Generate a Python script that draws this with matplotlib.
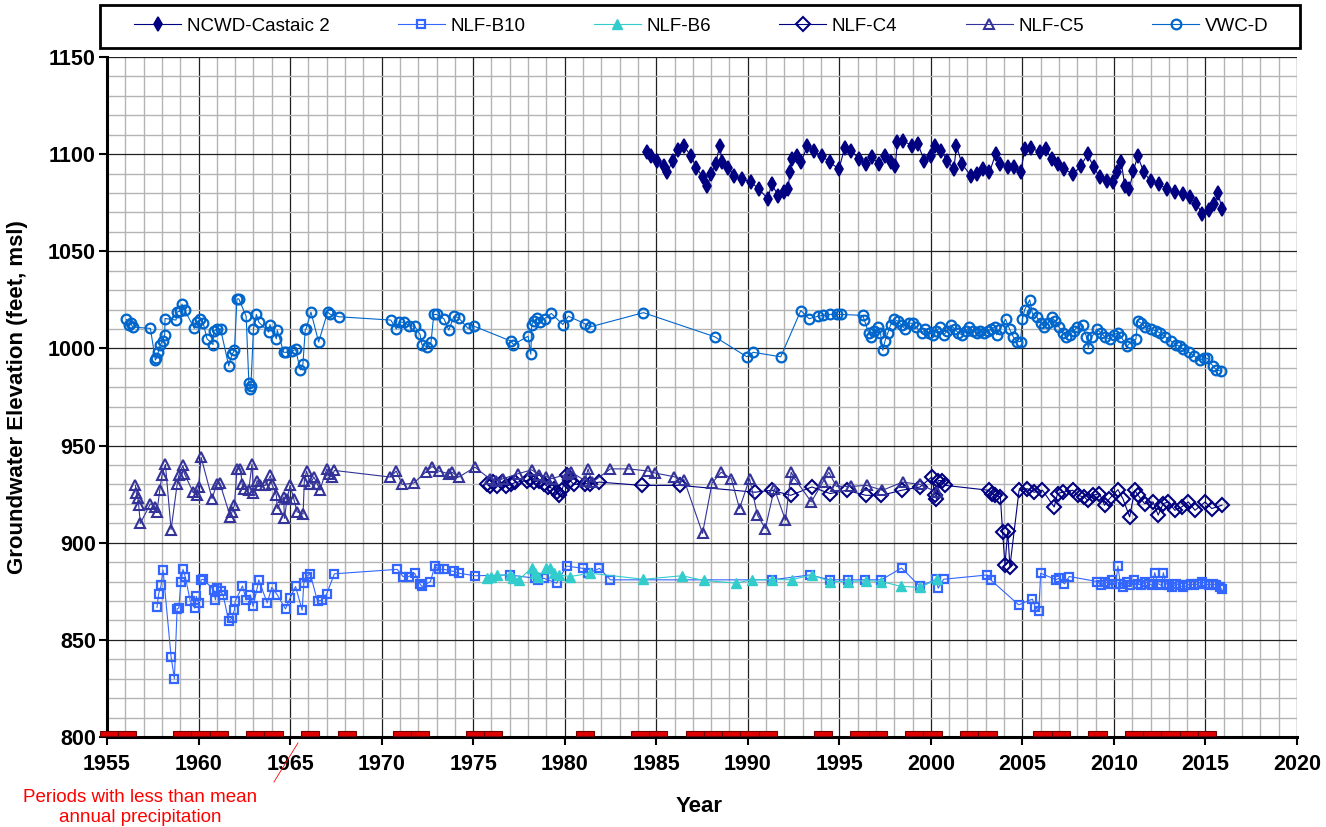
import matplotlib
matplotlib.use("Agg")
import matplotlib.pyplot as plt
from matplotlib.ticker import MultipleLocator
from matplotlib.patches import Rectangle
from matplotlib.lines import Line2D

plt.rcParams['font.family'] = ['Liberation Sans', 'DejaVu Sans']

# (year, groundwater elevation in feet msl)
ncwd_castaic2 = [
    (1984.47, 1101), (1984.7, 1099), (1985.05, 1096.6), (1985.4, 1094), (1985.6, 1090.6),
    (1985.9, 1096.6), (1986.2, 1102), (1986.5, 1104.3), (1986.9, 1099), (1987.2, 1093),
    (1987.55, 1088), (1987.8, 1083.8), (1988.0, 1089.7), (1988.24, 1095), (1988.47, 1104.3),
    (1988.6, 1095.7), (1988.93, 1093), (1989.27, 1089), (1989.7, 1087.2), (1990.2, 1085.5),
    (1990.6, 1082), (1991.1, 1077), (1991.3, 1084.6), (1991.67, 1078.6), (1992.0, 1080.3),
    (1992.2, 1082), (1992.3, 1090.6), (1992.4, 1097.4), (1992.7, 1099), (1992.9, 1095.7),
    (1993.26, 1104.3), (1993.6, 1101.7), (1994.06, 1099), (1994.5, 1095.7), (1994.98, 1092.3),
    (1995.3, 1103.4), (1995.66, 1101.7), (1996.1, 1097.4), (1996.45, 1095), (1996.8, 1098.3),
    (1997.15, 1095), (1997.5, 1099), (1997.83, 1095.7), (1998.06, 1094), (1998.17, 1106),
    (1998.5, 1106.8), (1998.97, 1104.3), (1999.3, 1105), (1999.65, 1096.6), (2000.0, 1099),
    (2000.23, 1104.3), (2000.57, 1101.7), (2000.9, 1096.6), (2001.26, 1092.3), (2001.4, 1104.3),
    (2001.7, 1095), (2002.17, 1089), (2002.5, 1089.7), (2002.85, 1092.3), (2003.2, 1090.6),
    (2003.54, 1100), (2003.77, 1095), (2004.2, 1093.2), (2004.57, 1093.2), (2004.9, 1090.6),
    (2005.14, 1102.6), (2005.48, 1103.4), (2005.94, 1101), (2006.28, 1102.6), (2006.6, 1097.4),
    (2006.96, 1095), (2007.3, 1092.3), (2007.76, 1089.7), (2008.2, 1094), (2008.56, 1100),
    (2008.9, 1093.2), (2009.25, 1088), (2009.6, 1086.3), (2009.93, 1085.5), (2010.16, 1090.6),
    (2010.4, 1095.7), (2010.6, 1083.8), (2010.84, 1082), (2011.07, 1091.5), (2011.3, 1099),
    (2011.64, 1090.6), (2012.0, 1086.3), (2012.44, 1084.6), (2012.9, 1082), (2013.35, 1080.3),
    (2013.8, 1079.5), (2014.15, 1077.8), (2014.5, 1074.4), (2014.84, 1069.2), (2015.18, 1071),
    (2015.48, 1074.4), (2015.7, 1079.8), (2015.9, 1071.8),
]

nlf_b10 = [
    (1957.73, 866.7), (1957.82, 873.7), (1957.95, 878), (1958.06, 886), (1958.5, 841.3),
    (1958.68, 830), (1958.83, 866), (1958.92, 866.4), (1959.04, 880), (1959.15, 886.3),
    (1959.28, 882.3), (1959.55, 869.8), (1959.79, 866.4), (1959.88, 872.4), (1960.0, 869),
    (1960.14, 880.9), (1960.25, 881.2), (1960.83, 875.8), (1960.92, 870.6), (1961.0, 876.6),
    (1961.2, 874.9), (1961.34, 873.2), (1961.65, 859.6), (1961.83, 861.3), (1961.96, 865.5),
    (1962.0, 869.8), (1962.4, 877.8), (1962.6, 870.6), (1962.83, 873.2), (1962.98, 867.2),
    (1963.2, 876.6), (1963.29, 880.9), (1963.75, 869), (1964.0, 877), (1964.3, 873.2),
    (1964.75, 865.9), (1965.0, 871.5), (1965.3, 877.5), (1965.66, 865.2), (1965.75, 879.2),
    (1965.9, 882.6), (1966.1, 884), (1966.5, 869.8), (1966.75, 870.6), (1967.0, 873.7),
    (1967.42, 884), (1970.85, 886.3), (1971.17, 882.6), (1971.48, 882.6), (1971.8, 884.3),
    (1972.1, 878.8), (1972.2, 877.5), (1972.67, 880), (1972.9, 888), (1973.12, 886.3),
    (1973.4, 886.3), (1973.95, 885.2), (1974.22, 884.3), (1975.1, 883), (1977.0, 883.4),
    (1978.4, 881.7), (1978.56, 880.9), (1978.87, 881.7), (1979.56, 879.2), (1980.1, 888),
    (1981.0, 886.8), (1981.3, 884.3), (1981.9, 886.8), (1982.5, 880.9), (1991.3, 880.9),
    (1993.4, 883.4), (1994.5, 880.9), (1995.5, 880.9), (1996.4, 880.9), (1997.3, 880.9),
    (1998.4, 887), (1999.41, 877.5), (2000.3, 881.2), (2000.4, 876.6), (2000.7, 881.2),
    (2003.08, 883.4), (2003.26, 881), (2004.8, 868), (2005.55, 871), (2005.7, 867),
    (2005.9, 865), (2006.0, 884.3), (2006.83, 881), (2007.0, 881.7), (2007.3, 878.8),
    (2007.56, 882.6), (2009.1, 880), (2009.3, 878), (2009.5, 880), (2009.7, 879),
    (2009.9, 881), (2010.1, 879), (2010.22, 888), (2010.35, 879), (2010.5, 877),
    (2010.7, 880), (2010.9, 878), (2011.1, 881), (2011.3, 879), (2011.5, 878),
    (2011.7, 880), (2011.9, 879), (2012.1, 878), (2012.23, 884.6), (2012.4, 879),
    (2012.6, 878), (2012.7, 884.6), (2012.85, 879), (2013.0, 878), (2013.2, 877),
    (2013.4, 879), (2013.6, 878), (2013.8, 877), (2014.0, 878), (2014.2, 879),
    (2014.4, 878), (2014.6, 879), (2014.8, 880), (2015.0, 879), (2015.2, 878),
    (2015.4, 879), (2015.6, 878), (2015.8, 877), (2015.9, 876),
]

nlf_b6 = [
    (1975.73, 882), (1976.0, 882.6), (1976.3, 883.4), (1977.0, 883.4), (1977.2, 881.7),
    (1977.5, 881), (1978.2, 887), (1978.4, 884.3), (1978.56, 882.6), (1979.0, 887),
    (1979.2, 887), (1979.4, 884.3), (1979.67, 883.4), (1980.3, 882.6), (1981.4, 884.3),
    (1984.3, 881.2), (1986.4, 883), (1987.6, 880.6), (1989.36, 879.2), (1990.25, 881),
    (1991.35, 881), (1992.4, 881), (1993.5, 883.4), (1994.5, 880), (1995.5, 880),
    (1996.45, 880.5), (1997.3, 880), (1998.35, 877.6), (1999.41, 877), (2000.33, 881.2),
]

nlf_c4 = [
    (1975.73, 930.4), (1975.9, 929), (1976.1, 931), (1976.3, 929), (1976.55, 931),
    (1976.8, 929), (1977.05, 930), (1977.3, 931), (1977.93, 932), (1978.1, 933),
    (1978.3, 931), (1978.57, 932), (1978.85, 930.4), (1979.1, 928.7), (1979.4, 927.8),
    (1979.58, 926), (1979.67, 924.4), (1979.85, 927), (1980.1, 935), (1980.3, 932),
    (1980.5, 930), (1981.1, 930.4), (1981.4, 930.4), (1981.9, 931.2), (1984.2, 929.5),
    (1986.3, 929.5), (1990.4, 926), (1991.3, 927), (1992.35, 924.4), (1993.5, 928.7),
    (1994.5, 925.3), (1995.4, 927), (1996.45, 924.4), (1997.3, 924.4), (1998.4, 927),
    (1999.41, 928.7), (2000.05, 933.8), (2000.24, 924.4), (2000.3, 922.7), (2000.4, 932),
    (2000.6, 932), (2000.8, 929.5), (2003.17, 927), (2003.35, 925.3), (2003.53, 924.4),
    (2003.8, 923.5), (2003.92, 905.6), (2004.05, 888.6), (2004.2, 905.8), (2004.32, 887.7),
    (2004.82, 927), (2005.27, 927.8), (2005.64, 926), (2006.1, 927), (2006.74, 918.4),
    (2006.92, 925.3), (2007.2, 926), (2007.75, 927), (2008.02, 924.4), (2008.39, 923.5),
    (2008.57, 921.8), (2008.85, 924.4), (2009.21, 925.3), (2009.49, 919.3), (2009.76, 922.7),
    (2010.22, 927.3), (2010.49, 922.7), (2010.86, 913.3), (2011.14, 927), (2011.32, 924.4),
    (2011.68, 920.1), (2012.14, 921), (2012.42, 914.2), (2012.69, 920.1), (2012.97, 921),
    (2013.33, 916.7), (2013.7, 918.4), (2014.07, 921), (2014.43, 916.7), (2014.98, 921),
    (2015.35, 917.6), (2015.9, 919.3),
]

nlf_c5 = [
    (1956.55, 929.5), (1956.6, 925.6), (1956.68, 923.2), (1956.73, 919.3), (1956.82, 910),
    (1957.37, 920), (1957.64, 918.4), (1957.73, 915.9), (1957.88, 927), (1958.0, 934.6),
    (1958.19, 940.3), (1958.5, 906.8), (1958.83, 930), (1958.92, 934.6), (1959.15, 939.8),
    (1959.23, 935.5), (1959.7, 926), (1959.9, 924.4), (1960.0, 928.7), (1960.14, 944),
    (1960.74, 922.7), (1961.0, 930.4), (1961.16, 930.7), (1961.74, 913.3), (1961.83, 915.9),
    (1961.96, 919.3), (1962.1, 938), (1962.29, 938), (1962.38, 930.4), (1962.47, 927.8),
    (1962.74, 927), (1962.92, 940.6), (1963.0, 925.6), (1963.2, 932), (1963.38, 929.5),
    (1963.65, 929.5), (1963.93, 934.6), (1964.0, 930.4), (1964.25, 924.4), (1964.3, 917.6),
    (1964.65, 923.5), (1964.69, 912.5), (1964.84, 922.7), (1965.0, 929.5), (1965.2, 922.7),
    (1965.38, 915.9), (1965.71, 914.7), (1965.78, 932), (1965.9, 936.9), (1966.1, 930.4),
    (1966.3, 933.8), (1966.48, 930.4), (1966.63, 927), (1967.0, 938), (1967.1, 935.5),
    (1967.3, 933.8), (1967.42, 937.2), (1970.48, 933.8), (1970.8, 936.9), (1971.12, 930),
    (1971.76, 930.7), (1972.4, 936.3), (1972.76, 939.2), (1973.12, 936.9), (1973.67, 935.5),
    (1973.85, 936.3), (1974.22, 933.8), (1975.1, 938.9), (1975.9, 932.9), (1976.26, 932),
    (1976.63, 932.9), (1977.45, 935.5), (1978.2, 937.5), (1978.6, 935), (1979.0, 934),
    (1979.3, 933), (1980.2, 935.5), (1980.37, 936.3), (1981.1, 932), (1981.28, 938),
    (1981.5, 931), (1982.5, 938), (1983.5, 938), (1984.56, 936.9), (1984.96, 935.8),
    (1985.97, 934), (1986.52, 932.4), (1987.53, 904.8), (1988.05, 930.7), (1988.55, 936.3),
    (1989.1, 933), (1989.55, 917.6), (1990.1, 933), (1990.53, 914.2), (1990.96, 907.3),
    (1991.45, 927.8), (1992.06, 911.6), (1992.37, 936.3), (1992.56, 933), (1993.47, 921),
    (1994.1, 931.2), (1994.43, 936.3), (1994.84, 929), (1995.66, 929), (1996.5, 929.5),
    (1997.36, 927), (1998.46, 931.2), (1999.41, 930), (2000.33, 926),
]

vwc_d = [
    (1956.06, 1014.9), (1956.2, 1012), (1956.3, 1013), (1956.4, 1011), (1957.37, 1010.3),
    (1957.64, 994), (1957.7, 995), (1957.8, 998), (1957.92, 1002), (1958.04, 1004),
    (1958.15, 1007), (1958.17, 1015.4), (1958.77, 1014.6), (1958.83, 1018.7), (1958.97, 1019.2),
    (1959.1, 1022.8), (1959.24, 1019.7), (1959.77, 1010.3), (1959.9, 1013.5), (1960.1, 1015.3),
    (1960.25, 1013.2), (1960.46, 1005), (1960.79, 1002), (1960.83, 1008.9), (1961.0, 1009.8),
    (1961.2, 1010.1), (1961.65, 991), (1961.83, 997), (1961.96, 999), (1962.1, 1025.5),
    (1962.2, 1025.5), (1962.6, 1016.6), (1962.75, 982), (1962.83, 979), (1962.86, 980.6),
    (1963.0, 1010), (1963.16, 1017.5), (1963.29, 1013.5), (1963.83, 1008.4), (1963.9, 1012.3),
    (1964.25, 1005), (1964.3, 1009.4), (1964.65, 998), (1964.8, 998), (1965.1, 998.6),
    (1965.3, 999.5), (1965.56, 989), (1965.7, 991.8), (1965.83, 1009.8), (1965.87, 1010),
    (1966.14, 1018.7), (1966.56, 1003.3), (1967.05, 1018.7), (1967.2, 1017.5), (1967.66, 1016.3),
    (1970.5, 1014.6), (1970.8, 1010), (1970.95, 1013.5), (1971.25, 1013.5), (1971.5, 1011.5),
    (1971.8, 1011.5), (1972.1, 1007.2), (1972.2, 1002), (1972.5, 1000.7), (1972.7, 1003.3),
    (1972.85, 1017.5), (1973.0, 1017.5), (1973.4, 1015.3), (1973.67, 1009.4), (1973.95, 1016.6),
    (1974.2, 1015.8), (1974.72, 1010.3), (1975.03, 1011.5), (1977.06, 1003.8), (1977.2, 1002),
    (1978.0, 1006.3), (1978.15, 997), (1978.2, 1012.3), (1978.3, 1014), (1978.5, 1015.8),
    (1978.65, 1013.5), (1978.9, 1015.3), (1979.27, 1018), (1979.9, 1012.3), (1980.2, 1016.6),
    (1981.1, 1012.7), (1981.4, 1011.1), (1984.3, 1018.4), (1988.2, 1006), (1989.95, 995.7),
    (1990.3, 998), (1991.8, 995.7), (1992.9, 1019.5), (1993.35, 1015.3), (1993.86, 1016.6),
    (1994.1, 1017), (1994.5, 1017.5), (1994.85, 1017.5), (1995.1, 1017.5), (1996.28, 1017),
    (1996.37, 1014.6), (1996.6, 1008), (1996.75, 1006), (1996.9, 1009), (1997.1, 1011),
    (1997.25, 1008), (1997.38, 999), (1997.5, 1004), (1997.65, 1008), (1997.8, 1012),
    (1998.0, 1015), (1998.2, 1014), (1998.4, 1012), (1998.6, 1010), (1998.8, 1013),
    (1999.0, 1013), (1999.2, 1011), (1999.5, 1008), (1999.7, 1010), (1999.9, 1008),
    (2000.1, 1007), (2000.3, 1009), (2000.5, 1011), (2000.7, 1007), (2000.9, 1009),
    (2001.1, 1012), (2001.3, 1010), (2001.5, 1008), (2001.7, 1007), (2001.9, 1009),
    (2002.1, 1011), (2002.3, 1009), (2002.5, 1008), (2002.7, 1009), (2002.9, 1008),
    (2003.1, 1009), (2003.3, 1010), (2003.5, 1011), (2003.6, 1007), (2003.8, 1010),
    (2004.08, 1015), (2004.3, 1010), (2004.5, 1006), (2004.7, 1003.5), (2004.9, 1003.5),
    (2005.0, 1015), (2005.13, 1020), (2005.4, 1025), (2005.55, 1018), (2005.8, 1016),
    (2006.0, 1013), (2006.2, 1011), (2006.4, 1013), (2006.6, 1016), (2006.8, 1014),
    (2007.0, 1011), (2007.2, 1008), (2007.4, 1006), (2007.6, 1007), (2007.8, 1009),
    (2008.0, 1011), (2008.3, 1012), (2008.5, 1006), (2008.6, 1000.3), (2008.8, 1006),
    (2009.07, 1010), (2009.3, 1008), (2009.5, 1006), (2009.8, 1004.6), (2010.0, 1007),
    (2010.2, 1008), (2010.4, 1006), (2010.7, 1001), (2010.9, 1003), (2011.2, 1004.6),
    (2011.3, 1014), (2011.5, 1013), (2011.7, 1011), (2012.0, 1010), (2012.3, 1009),
    (2012.5, 1008), (2012.8, 1006), (2013.1, 1004), (2013.4, 1002), (2013.6, 1001),
    (2013.8, 999.5), (2014.1, 998), (2014.4, 996), (2014.7, 994), (2014.9, 995),
    (2015.1, 995), (2015.4, 991), (2015.6, 989), (2015.85, 988.3),
]

# years with less than mean annual precipitation
dry_years = [1955, 1956, 1959, 1960, 1961, 1963, 1964, 1966, 1968, 1971, 1972,
             1975, 1976, 1981, 1984, 1985, 1987, 1988, 1989, 1990, 1991, 1994,
             1996, 1997, 1999, 2000, 2002, 2003, 2006, 2007, 2009, 2011, 2012,
             2013, 2014, 2015]

xticks = list(range(1955, 2021, 5))
yticks = list(range(800, 1151, 50))

series = [
    ("NCWD-Castaic 2", ncwd_castaic2, dict(color="#000080", marker="d", ms=7.5, mfc="#000080", mew=1.2)),
    ("NLF-B10", nlf_b10, dict(color="#3366FF", marker="s", ms=6, mfc="none", mew=1.6)),
    ("NLF-B6", nlf_b6, dict(color="#33CCCC", marker="^", ms=7, mfc="#33CCCC", mew=1.0)),
    ("NLF-C4", nlf_c4, dict(color="#000080", marker="D", ms=7, mfc="none", mew=1.5)),
    ("NLF-C5", nlf_c5, dict(color="#333399", marker="^", ms=7, mfc="none", mew=1.5)),
    ("VWC-D", vwc_d, dict(color="#0066CC", marker="o", ms=7, mfc="none", mew=1.6)),
]

fig = plt.figure(figsize=(13.26, 8.27), dpi=100)
ax = fig.add_axes([0.0807, 0.1088, 0.8974, 0.8223])

handles = []
for name, pts, st in series:
    xs = [p[0] for p in pts]
    ys = [p[1] for p in pts]
    h, = ax.plot(xs, ys, lw=0.8, label=name, zorder=3, **st)
    handles.append(h)

ax.bar([y + 0.1 for y in dry_years], 2.6, width=1.0, bottom=800.6,
       color="#e00000", edgecolor="#700000", linewidth=0.8, clip_on=False, zorder=4)

ax.set_xlim(1955, 2020)
ax.set_ylim(800, 1150)
ax.set_xticks(xticks)
ax.set_xticklabels([str(t) for t in xticks], fontweight="bold")
ax.set_yticks(yticks)
ax.set_yticklabels([str(t) for t in yticks], fontweight="bold")
ax.xaxis.set_minor_locator(MultipleLocator(1))
ax.yaxis.set_minor_locator(MultipleLocator(10))
ax.set_axisbelow(True)
ax.grid(which="minor", color="#b4b4b4", lw=1.0)
ax.grid(which="major", color="#202020", lw=0.9)
ax.tick_params(which="minor", length=0)
ax.tick_params(axis="x", which="major", length=6, width=1.5, labelsize=15.5, pad=6)
ax.tick_params(axis="y", which="major", length=6, width=1.5, labelsize=15.5, pad=2)
for s in ["top", "right"]:
    ax.spines[s].set_visible(False)
for s in ["left", "bottom"]:
    ax.spines[s].set_linewidth(2.2)

ax.set_ylabel("Groundwater Elevation (feet, msl)", fontsize=16, fontweight="bold")
ax.yaxis.set_label_coords(-0.066, 0.5)
ax.set_xlabel("Year", fontsize=16, fontweight="bold")
ax.xaxis.set_label_coords(0.4975, -0.086)

# legend box above the plot
fig.patches.append(Rectangle((0.0754, 0.942), 0.905, 0.052, transform=fig.transFigure,
                             facecolor="white", edgecolor="black", lw=2.0))
fig.legend(handles=handles, loc="center", bbox_to_anchor=(0.529, 0.968), ncol=6,
           frameon=False, fontsize=13.5, handlelength=2.5, handletextpad=0.3,
           columnspacing=3.65)

fig.text(0.1056, 0.0236, "Periods with less than mean\nannual precipitation",
         color="red", fontsize=13.5, ha="center", va="center", linespacing=1.2)
fig.lines.append(Line2D([0.2066, 0.2247], [0.0544, 0.1016], transform=fig.transFigure,
                        color="red", lw=0.6))

fig.savefig("out.png", dpi=100)
